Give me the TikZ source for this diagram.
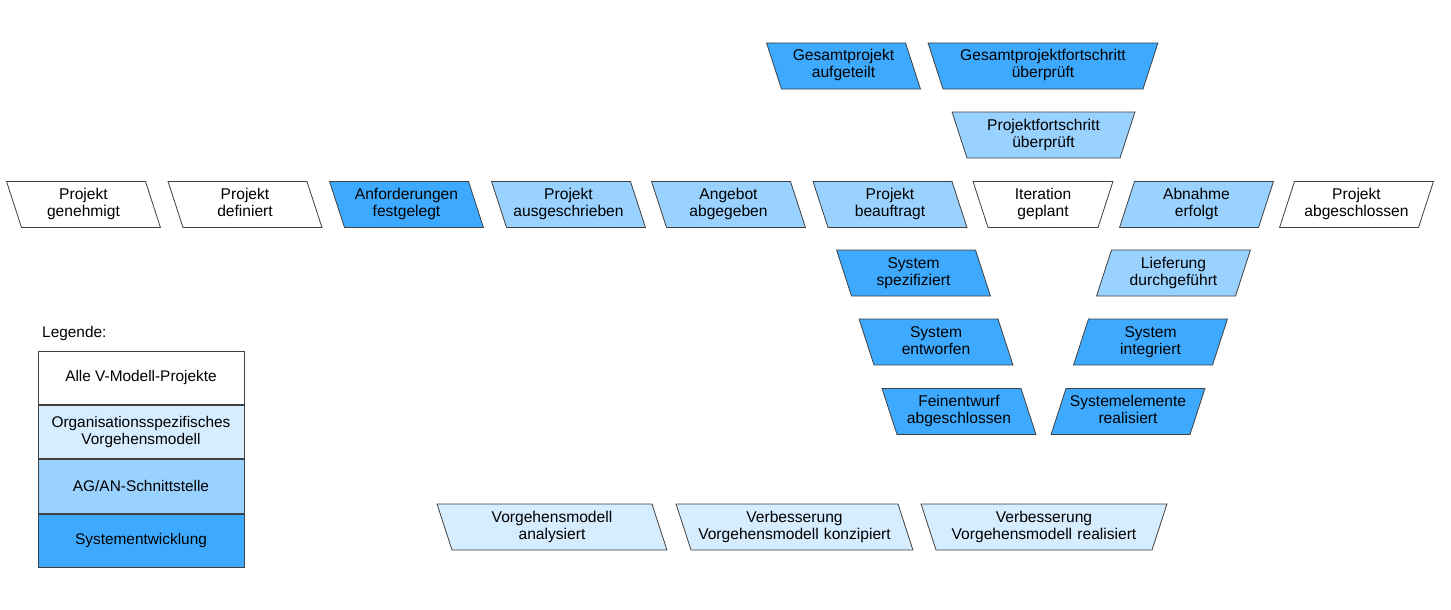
\documentclass[tikz,border=0pt]{standalone}
\usepackage{fontspec}
\setmainfont{Liberation Sans}
\usetikzlibrary{shapes.geometric,positioning}
\definecolor{vmwhite}{RGB}{255,255,255}
\definecolor{vmorg}{RGB}{214,237,255}
\definecolor{vmagan}{RGB}{153,209,255}
\definecolor{vmsys}{RGB}{62,170,255}
\tikzset{
  ev/.style={trapezium, draw=black!75, line width=0.8pt, trapezium stretches body=true,
    inner xsep=0pt, inner ysep=0pt, text height=18pt, text depth=28pt, text width=124pt,
    align=center, font=\fontsize{15.6}{17}\selectfont},
  slantl/.style={ev, trapezium left angle=108, trapezium right angle=72},
  slantr/.style={ev, trapezium left angle=72, trapezium right angle=108},
  funnel/.style={ev, trapezium left angle=108, trapezium right angle=108},
  legrow/.style={rectangle, draw=black!75, line width=0.8pt, minimum width=206pt,
    minimum height=53.5pt, inner sep=0pt, align=center, font=\fontsize{15.4}{17}\selectfont}
}
\begin{document}
\begin{tikzpicture}[x=1pt,y=-1pt]
    \useasboundingbox (0,0) rectangle (1451,610);
    \node[slantl, fill=vmwhite] (genehmigt) at (83.5,204.5) {Projekt\\genehmigt};
    \node[slantl, fill=vmwhite] (definiert) at (245,204.5) {Projekt\\definiert};
    \node[slantl, fill=vmsys] (festgelegt) at (406.5,204.5) {Anforderungen\\festgelegt};
    \node[slantl, fill=vmagan] (ausgeschrieben) at (568.5,204.5) {Projekt\\ausgeschrieben};
    \node[slantl, fill=vmagan] (abgegeben) at (728.5,204.5) {Angebot\\abgegeben};
    \node[slantl, fill=vmagan] (beauftragt) at (890,204.5) {Projekt\\beauftragt};
    \node[funnel, fill=vmwhite, text width=110pt] (geplant) at (1043,204.5) {Iteration\\geplant};
    \node[slantr, fill=vmagan] (abnahme) at (1196.5,204.5) {Abnahme\\erfolgt};
    \node[slantr, fill=vmwhite] (abgeschlossen) at (1356.5,204.5) {Projekt\\abgeschlossen};

    \node[slantl, fill=vmsys] (aufgeteilt) at (843.5,66) {Gesamtprojekt\\aufgeteilt};
    \node[funnel, fill=vmsys, text width=200pt] (gesamtfs) at (1043,66) {Gesamtprojektfortschritt\\überprüft};
    \node[funnel, fill=vmagan, text width=153pt] (projektfs) at (1043.5,135) {Projektfortschritt\\überprüft};

    \node[slantl, fill=vmsys] (spezifiziert) at (913.5,273) {System\\spezifiziert};
    \node[slantl, fill=vmsys] (entworfen) at (936,342) {System\\entworfen};
    \node[slantl, fill=vmsys] (feinentwurf) at (959,411.5) {Feinentwurf\\abgeschlossen};
    \node[slantr, fill=vmagan] (lieferung) at (1173.5,273) {Lieferung\\durchgeführt};
    \node[slantr, fill=vmsys] (integriert) at (1150.5,342) {System\\integriert};
    \node[slantr, fill=vmsys] (realisiert) at (1128,411.5) {Systemelemente\\realisiert};

    \node[slantl, fill=vmorg, text width=200pt] (analysiert) at (552,527) {Vorgehensmodell\\analysiert};
    \node[slantl, fill=vmorg, text width=207pt] (konzipiert) at (794.5,527) {Verbesserung\\Vorgehensmodell konzipiert};
    \node[funnel, fill=vmorg, text width=216pt] (vmrealisiert) at (1044,527) {Verbesserung\\Vorgehensmodell realisiert};

    \node[anchor=base west, inner sep=0pt, font=\fontsize{15.4}{17}\selectfont] (legende) at (42,337) {Legende:};
    \node[legrow, fill=vmwhite] (leg1) at (141,377.75) {Alle V-Modell-Projekte};
    \node[legrow, fill=vmorg, below=0pt of leg1] (leg2) {Organisationsspezifisches\\Vorgehensmodell};
    \node[legrow, fill=vmagan, below=0pt of leg2] (leg3) {AG/AN-Schnittstelle};
    \node[legrow, fill=vmsys, below=0pt of leg3] (leg4) {Systementwicklung};
\end{tikzpicture}
\end{document}
